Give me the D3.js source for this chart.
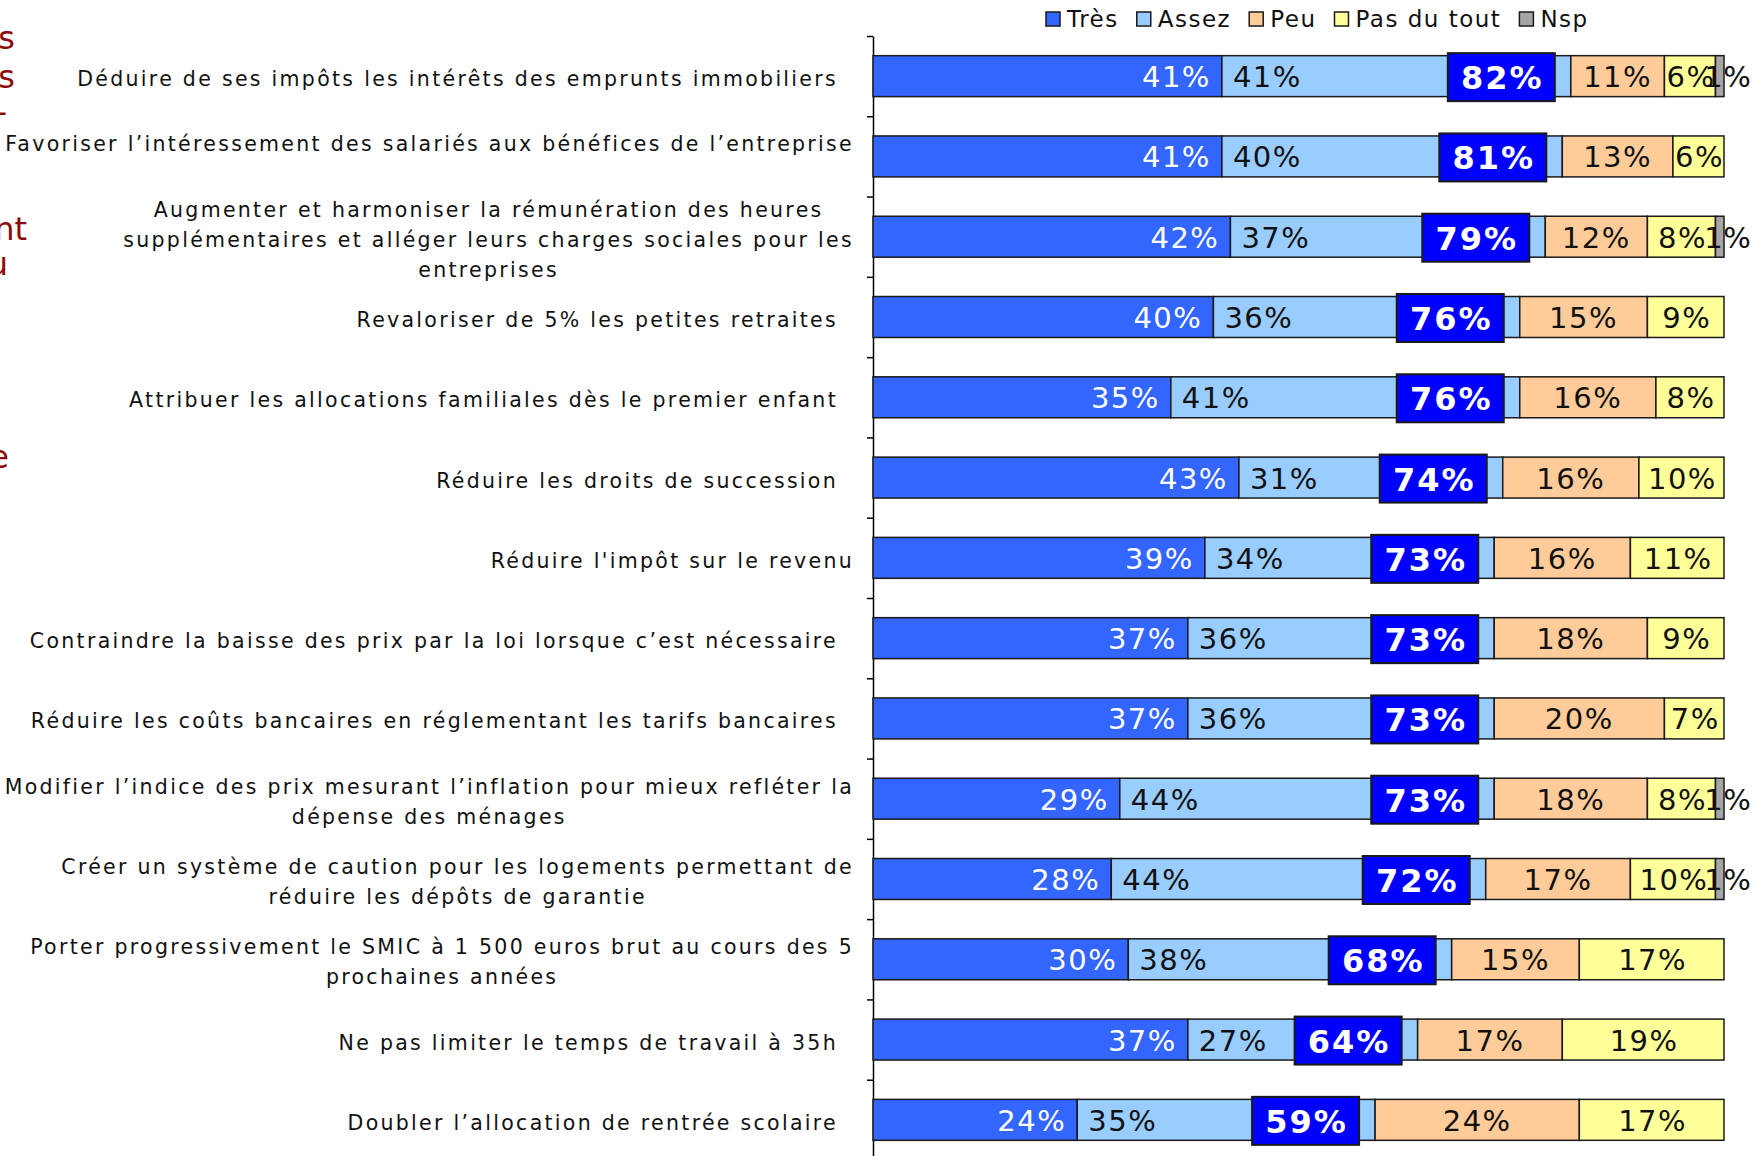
<!DOCTYPE html>
<html>
<head>
<meta charset="utf-8">
<script src="https://cdn.jsdelivr.net/npm/d3@7"></script>
<style>
  body { margin: 0; background: #fff; }
  svg { display: block; font-family: "DejaVu Sans", Verdana, sans-serif; }
</style>
</head>
<body>
<div id="chart"></div>
<script>
// data
var categories = [
    "Déduire de ses impôts les intérêts des emprunts immobiliers ",
    "Favoriser l’intéressement des salariés aux bénéfices de l’entreprise\n",
    "Augmenter et harmoniser la rémunération des heures\nsupplémentaires et alléger leurs charges sociales pour les\nentreprises",
    "Revaloriser de 5% les petites retraites ",
    "Attribuer les allocations familiales dès le premier enfant ",
    "Réduire les droits de succession ",
    "Réduire l'impôt sur le revenu",
    "Contraindre la baisse des prix par la loi lorsque c’est nécessaire ",
    "Réduire les coûts bancaires en réglementant les tarifs bancaires ",
    "Modifier l’indice des prix mesurant l’inflation pour mieux refléter la\ndépense des ménages",
    "Créer un système de caution pour les logements permettant de\nréduire les dépôts de garantie",
    "Porter progressivement le SMIC à 1 500 euros brut au cours des 5\nprochaines années",
    "Ne pas limiter le temps de travail à 35h ",
    "Doubler l’allocation de rentrée scolaire "
];
var tres      = [41, 41, 42, 40, 35, 43, 39, 37, 37, 29, 28, 30, 37, 24];
var assez     = [41, 40, 37, 36, 41, 31, 34, 36, 36, 44, 44, 38, 27, 35];
var peu       = [11, 13, 12, 15, 16, 16, 16, 18, 20, 18, 17, 15, 17, 24];
var pasDuTout = [6, 6, 8, 9, 8, 10, 11, 9, 7, 8, 10, 17, 19, 17];
var nsp       = [1, 0, 1, 0, 0, 0, 0, 0, 0, 1, 1, 0, 0, 0];
var totals    = [82, 81, 79, 76, 76, 74, 73, 73, 73, 73, 72, 68, 64, 59];

var seriesNames = ["Très", "Assez", "Peu", "Pas du tout", "Nsp"];
var seriesColors = ["#3366ff", "#99ccff", "#ffcc99", "#ffff99", "#a6a6a6"];

var width = 1756, height = 1156;
var svg = d3.select("#chart").append("svg")
    .attr("width", width)
    .attr("height", height);

var x = d3.scaleLinear().domain([0, 100]).range([873, 1724]);
var y = d3.scaleBand().domain(d3.range(categories.length))
    .range([36, 1160]).paddingInner(0.49).paddingOuter(0.245);
var yEdge = d3.scaleLinear().domain([0, categories.length]).range([36, 1160]);

// stacked table
var rows = categories.map(function (c, i) {
    return { i: i, "Très": tres[i], "Assez": assez[i], "Peu": peu[i],
             "Pas du tout": pasDuTout[i], "Nsp": nsp[i], total: totals[i] };
});
var stack = d3.stack().keys(seriesNames)(rows);

// left fragments of a clipped text box
var frags = [["s", 15, 49], ["s", 15, 88], ["-", 7, 123], ["nt", 27, 240], ["u", 8, 275], ["e", 9, 468]];
svg.append("g").selectAll("text").data(frags).enter().append("text")
    .attr("x", function (d) { return d[1]; })
    .attr("y", function (d) { return d[2]; })
    .attr("text-anchor", "end")
    .attr("fill", "#8b0a0a")
    .style("font-size", "32px")
    .text(function (d) { return d[0]; });

// axis, ticks on category boundaries
svg.append("g")
    .attr("transform", "translate(873,0)")
    .call(d3.axisLeft(yEdge).ticks(categories.length).tickSize(6).tickSizeOuter(0).tickFormat(""))
    .call(function (g) {
        g.select(".domain").attr("stroke", "#000").attr("stroke-width", 1.5);
        g.selectAll(".tick line").attr("stroke", "#000").attr("stroke-width", 1.5);
    });

// bars
var layers = svg.append("g").selectAll("g").data(stack).enter().append("g")
    .attr("fill", function (d, k) { return seriesColors[k]; });

layers.selectAll("rect").data(function (d) { return d.filter(function (s) { return s[1] > s[0]; }); })
    .enter().append("rect")
    .attr("x", function (s) { return x(s[0]); })
    .attr("y", function (s) { return y(s.data.i); })
    .attr("width", function (s) { return x(s[1]) - x(s[0]); })
    .attr("height", y.bandwidth())
    .attr("stroke", "#1a1a1a")
    .attr("stroke-width", 1.5);

// segment labels
layers.each(function (layer, k) {
    d3.select(this).selectAll("text")
        .data(layer.filter(function (s) { return s[1] > s[0]; }))
        .enter().append("text")
        .attr("x", function (s) {
            if (k === 0) return x(s[1]) - 11;
            if (k === 1) return x(s[0]) + 11;
            if (k === 4) return (x(s[0]) + x(s[1])) / 2 + 8;
            return (x(s[0]) + x(s[1])) / 2 + (k === 3 ? 1 : 0);
        })
        .attr("y", function (s) { return y(s.data.i) + y.bandwidth() / 2 + 1; })
        .attr("text-anchor", k === 0 ? "end" : (k === 1 ? "start" : "middle"))
        .attr("dominant-baseline", "central")
        .attr("fill", k === 0 ? "#fff" : "#111")
        .style("font-size", "29px")
        .style("letter-spacing", k === 4 ? "0.5px" : "1.5px")
        .text(function (s) { return (s[1] - s[0]) + "%"; });
});

// total boxes
var boxW = 107, boxH = 48;
var boxes = svg.append("g").selectAll("g").data(rows).enter().append("g")
    .attr("transform", function (d) {
        return "translate(" + (x(d.total) - 16 - boxW) + "," +
            (y(d.i) + y.bandwidth() / 2 + 1 - boxH / 2) + ")";
    });
boxes.append("rect")
    .attr("width", boxW)
    .attr("height", boxH)
    .attr("fill", "#0000ff")
    .attr("stroke", "#1a1a1a")
    .attr("stroke-width", 2);
boxes.append("text")
    .attr("x", boxW / 2 + 1)
    .attr("y", boxH / 2 + 1)
    .attr("text-anchor", "middle")
    .attr("dominant-baseline", "central")
    .attr("fill", "#fff")
    .style("font-size", "32px")
    .style("font-weight", "bold")
    .style("letter-spacing", "2px")
    .text(function (d) { return d.total + "%"; });

// category labels
var labelRight = 854, lineH = 30;
var labels = svg.append("g").selectAll("text").data(categories).enter().append("text")
    .attr("fill", "#111")
    .style("font-size", "20.5px")
    .style("letter-spacing", "2.3px");

labels.each(function (c, i) {
    var t = d3.select(this);
    var lines = c.split("\n");
    var cy = y(i) + y.bandwidth() / 2 + 3;
    var trailing = /\s$/.test(lines[0]) && lines.length === 1;
    lines.forEach(function (ln, j) {
        t.append("tspan")
            .attr("y", cy + (j - (lines.length - 1) / 2) * lineH)
            .attr("dominant-baseline", "central")
            .text(ln.trim());
    });
    var widths = [];
    t.selectAll("tspan").each(function () { widths.push(this.getComputedTextLength()); });
    var maxW = d3.max(widths);
    if (lines.length === 1) {
        t.attr("text-anchor", "end");
        t.selectAll("tspan").attr("x", labelRight - (trailing ? 16 : 0));
    } else {
        t.attr("text-anchor", "middle");
        t.selectAll("tspan").attr("x", labelRight - maxW / 2);
    }
});

// legend
var legend = svg.append("g").attr("transform", "translate(1046,19)");
var lx = 0;
seriesNames.forEach(function (name, k) {
    var item = legend.append("g").attr("transform", "translate(" + lx + ",0)");
    item.append("rect")
        .attr("x", 0).attr("y", -7)
        .attr("width", 14).attr("height", 14)
        .attr("fill", seriesColors[k])
        .attr("stroke", "#1a1a1a")
        .attr("stroke-width", 1.5);
    var txt = item.append("text")
        .attr("x", 21)
        .attr("dominant-baseline", "central")
        .attr("fill", "#111")
        .style("font-size", "23px")
        .style("letter-spacing", "1.5px")
        .text(name);
    lx += 21 + txt.node().getComputedTextLength() + 18;
});
</script>
</body>
</html>
